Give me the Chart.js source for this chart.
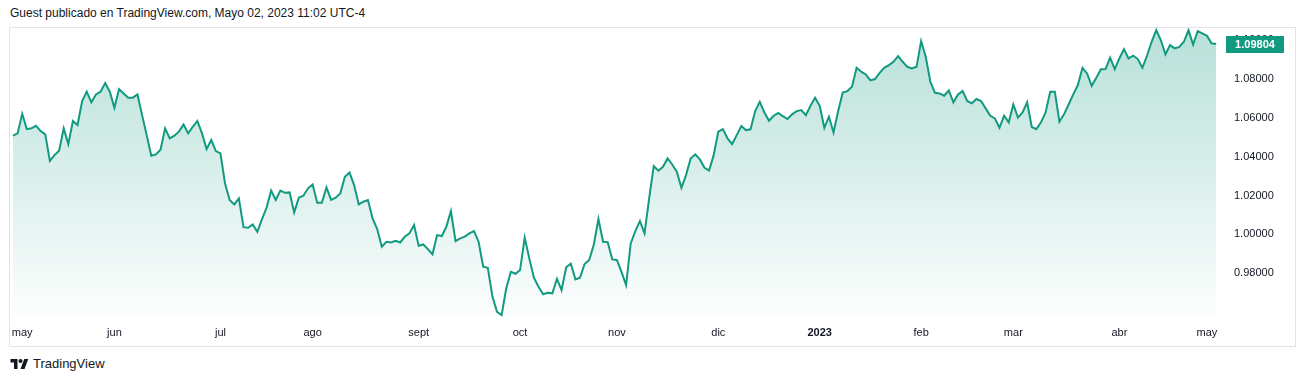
<!DOCTYPE html>
<html>
<head>
<meta charset="utf-8">
<script src="https://cdn.jsdelivr.net/npm/chart.js@4.4.0/dist/chart.umd.min.js"></script>
<style>
  html, body { margin: 0; padding: 0; background: #fff; }
  body { width: 1304px; height: 382px; position: relative; overflow: hidden; font-family: "Liberation Sans", Arial, sans-serif; }
  #title { position: absolute; left: 10px; top: 6px; font-size: 12px; color: #131722; white-space: nowrap; }
  #frame { position: absolute; left: 9px; top: 27px; width: 1287px; height: 320px; border: 1px solid #e0e3eb; box-sizing: border-box; }
  #box { position: absolute; left: 10px; top: 28px; width: 1284px; height: 317px; }
  #logo { position: absolute; left: 10px; top: 356px; display: flex; align-items: center; font-size: 13px; color: #131722; }
  #logo svg { margin-right: 4px; }
</style>
</head>
<body>
<div id="title">Guest publicado en TradingView.com, Mayo 02, 2023 11:02 UTC-4</div>
<div id="frame"></div>
<div id="box"><canvas id="chart"></canvas></div>
<div id="logo">
  <svg width="19" height="14" viewBox="0 0 36 28"><path d="M14 24H7V11H0V4h14v20z" fill="#131722"/><circle cx="20" cy="8" r="4" fill="#131722"/><path d="M28 24h-8l7.5-20h8L28 24z" fill="#131722"/></svg>
  <span>TradingView</span>
</div>
<script>
// EUR/USD cierres diarios, may 2022 - may 2023
var prices = [
  1.0508,1.0520,1.0621,1.0542,1.0546,1.0559,1.0532,1.0515,1.0378,1.0408,1.0431,1.0546,1.0465,1.0584,1.0563,1.0687,1.0735,1.0680,1.0721,1.0735,1.0779,1.0735,1.0652,1.0748,1.0726,1.0704,1.0704,1.0721,1.0614,1.0511,1.0405,1.0412,1.0436,
  1.0546,1.0494,1.0508,1.0529,1.0566,1.0520,1.0554,1.0584,1.0520,1.0439,1.0486,1.0429,1.0417,1.0262,1.0177,1.0154,1.0185,1.0037,1.0034,1.0051,1.0013,1.0077,1.0137,1.0225,1.0177,1.0225,1.0214,1.0216,1.0113,1.0189,1.0199,1.0237,
  1.0257,1.0163,1.0163,1.0242,1.0178,1.0189,1.0211,1.0297,1.0319,1.0254,1.0154,1.0168,1.0177,1.0082,1.0027,0.9936,0.9962,0.9958,0.9967,0.9958,0.9988,1.0005,1.0048,0.9941,0.9948,0.9924,0.9897,0.9996,0.9991,1.0039,1.0120,0.9965,0.9979,
  0.9988,1.0005,1.0017,0.9962,0.9833,0.9828,0.9679,0.9601,0.9584,0.9722,0.9807,0.9797,0.9816,0.9983,0.9876,0.9777,0.9730,0.9691,0.9699,0.9696,0.9770,0.9713,0.9830,0.9849,0.9768,0.9777,0.9847,0.9868,0.9948,1.0079,0.9962,0.9960,
  0.9871,0.9868,0.9807,0.9739,0.9953,1.0017,1.0068,1.0005,1.0185,1.0352,1.0328,1.0348,1.0391,1.0360,1.0323,1.0240,1.0305,1.0391,1.0412,1.0386,1.0343,1.0329,1.0408,1.0529,1.0542,1.0494,1.0465,1.0511,1.0558,1.0537,1.0541,1.0635,
  1.0683,1.0628,1.0585,1.0611,1.0625,1.0609,1.0594,1.0618,1.0635,1.0640,1.0614,1.0662,1.0704,1.0662,1.0549,1.0606,1.0525,1.0635,1.0731,1.0738,1.0760,1.0858,1.0838,1.0824,1.0793,1.0800,1.0832,1.0858,1.0872,1.0889,1.0918,1.0889,1.0863,
  1.0855,1.0863,1.0996,1.0915,1.0786,1.0729,1.0726,1.0714,1.0741,1.0680,1.0721,1.0738,1.0687,1.0675,1.0697,1.0687,1.0649,1.0611,1.0597,1.0549,1.0611,1.0577,1.0669,1.0601,1.0628,1.0680,1.0553,1.0542,1.0577,1.0628,1.0735,1.0735,1.0580,
  1.0618,1.0669,1.0721,1.0769,1.0858,1.0829,1.0765,1.0807,1.0850,1.0851,1.0910,1.0851,1.0906,1.0954,1.0906,1.0920,1.0903,1.0858,1.0920,1.0992,1.1052,1.1001,1.0927,1.0975,1.0958,1.0966,1.0992,1.1052,1.0978,1.1047,1.1035,1.1023,1.0984,1.09804
];
var monthNames = ['may','jun','jul','ago','sept','oct','nov','dic','2023','feb','mar','abr','may'];
var monthIdx = [2, 22, 45, 65, 88, 110, 131, 153, 175, 197, 217, 240, 259];
var priceTicks = [0.98, 1.00, 1.02, 1.04, 1.06, 1.08, 1.10];

var green = '#129a80';

var lastTag = {
  id: 'lastTag',
  afterDraw: function(chart) {
    var c = chart.ctx, a = chart.chartArea;
    var last = prices[prices.length - 1];
    var y = chart.scales.y.getPixelForValue(last);
    c.save();
    c.fillStyle = green;
    c.fillRect(a.right + 8, Math.round(y) - 8, 58, 17);
    c.fillStyle = '#fff';
    c.font = 'bold 11px "Liberation Sans", Arial, sans-serif';
    c.textAlign = 'center';
    c.textBaseline = 'middle';
    c.fillText(last.toFixed(5), a.right + 37, Math.round(y) + 0.5);
    c.restore();
  }
};

var ctx = document.getElementById('chart').getContext('2d');
var myChart = new Chart(ctx, {
  type: 'line',
  data: {
    datasets: [{
      data: prices.map(function(v, i) { return { x: i, y: v }; }),
      borderColor: green,
      borderWidth: 2,
      pointRadius: 0,
      tension: 0,
      fill: 'start',
      backgroundColor: function(context) {
        var a = context.chart.chartArea;
        if (!a) return 'rgba(18,154,128,0.2)';
        var g = context.chart.ctx.createLinearGradient(0, a.top, 0, a.bottom);
        g.addColorStop(0, 'rgba(18,154,128,0.30)');
        g.addColorStop(1, 'rgba(18,154,128,0.01)');
        return g;
      }
    }]
  },
  options: {
    responsive: true,
    maintainAspectRatio: false,
    animation: false,
    layout: { padding: 0 },
    plugins: { legend: { display: false }, tooltip: { enabled: false } },
    scales: {
      x: {
        type: 'linear',
        min: -0.65,
        max: 261.4,
        grid: { display: false, drawTicks: false },
        border: { display: false },
        afterBuildTicks: function(s) { s.ticks = monthIdx.map(function(v) { return { value: v }; }); },
        afterFit: function(s) { s.height = 27; s.paddingLeft = 0; s.paddingRight = 0; },
        ticks: {
          autoSkip: false,
          maxRotation: 0,
          padding: 8,
          color: '#131722',
          font: function(c) { return { family: '"Liberation Sans", Arial, sans-serif', size: 11, weight: c.index === 8 ? 'bold' : 'normal' }; },
          callback: function(v, i) { return monthNames[i]; }
        }
      },
      y: {
        position: 'right',
        min: 0.9569,
        max: 1.1063,
        grid: { display: false, drawTicks: false },
        border: { display: false },
        afterBuildTicks: function(s) { s.ticks = priceTicks.map(function(v) { return { value: v }; }); },
        afterFit: function(s) { s.width = 76; s.paddingTop = 0; s.paddingBottom = 0; },
        ticks: {
          padding: 16,
          color: '#131722',
          font: { family: '"Liberation Sans", Arial, sans-serif', size: 11 },
          callback: function(v) { return v.toFixed(5); }
        }
      }
    }
  },
  plugins: [lastTag]
});
</script>
</body>
</html>
